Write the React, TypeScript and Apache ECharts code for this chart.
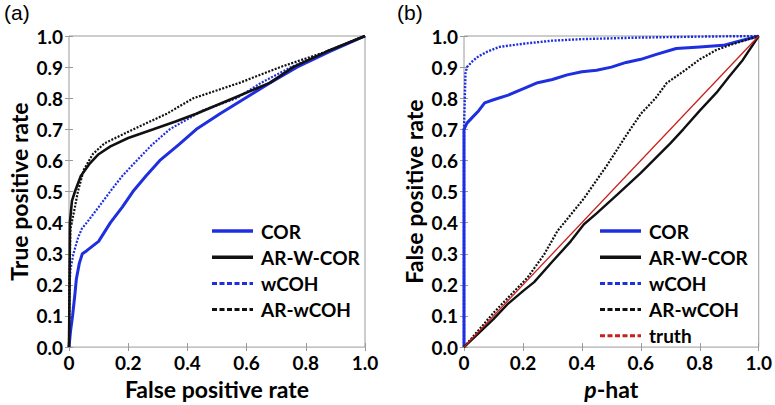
import React, { useEffect, useRef } from "react";
import * as echarts from "echarts";

// ---------- Data ----------
// Panel (a): ROC curves  [false positive rate, true positive rate]
const rocCOR: number[][] = [
  [0, 0], [0.005, 0.05], [0.012, 0.1], [0.02, 0.17], [0.025, 0.22], [0.035, 0.27], [0.045, 0.3],
  [0.06, 0.31], [0.1, 0.34], [0.14, 0.4], [0.18, 0.45], [0.216, 0.5], [0.26, 0.55], [0.307, 0.6],
  [0.37, 0.65], [0.43, 0.7], [0.51, 0.75], [0.595, 0.8], [0.68, 0.85], [0.77, 0.9], [0.88, 0.95], [1, 1],
];
const rocARWCOR: number[][] = [
  [0, 0], [0.002, 0.2], [0.003, 0.4], [0.01, 0.47], [0.02, 0.5], [0.04, 0.55], [0.07, 0.59],
  [0.1, 0.62], [0.14, 0.645], [0.2, 0.672], [0.285, 0.7], [0.36, 0.725], [0.43, 0.75], [0.555, 0.8],
  [0.68, 0.85], [0.757, 0.9], [0.87, 0.95], [1, 1],
];
const rocWCOH: number[][] = [
  [0, 0], [0.002, 0.2], [0.005, 0.25], [0.015, 0.3], [0.03, 0.35], [0.043, 0.38], [0.06, 0.4],
  [0.1, 0.45], [0.139, 0.5], [0.18, 0.55], [0.229, 0.6], [0.28, 0.65], [0.34, 0.7], [0.45, 0.76],
  [0.566, 0.8], [0.65, 0.85], [0.75, 0.9], [0.87, 0.95], [1, 1],
];
const rocARWCOH: number[][] = [
  [0, 0], [0.001, 0.2], [0.005, 0.38], [0.02, 0.45], [0.03, 0.5], [0.05, 0.57], [0.08, 0.62],
  [0.12, 0.655], [0.217, 0.7], [0.33, 0.75], [0.42, 0.8], [0.578, 0.85], [0.713, 0.9], [0.87, 0.95], [1, 1],
];

// Panel (b): calibration  [p-hat, false positive rate]
const calCOR: number[][] = [
  [0, 0], [0, 0.7], [0.01, 0.72], [0.03, 0.74], [0.05, 0.76], [0.07, 0.785], [0.1, 0.795], [0.15, 0.81],
  [0.2, 0.83], [0.25, 0.85], [0.3, 0.86], [0.35, 0.875], [0.4, 0.885], [0.45, 0.89], [0.5, 0.9],
  [0.55, 0.915], [0.6, 0.925], [0.65, 0.94], [0.72, 0.96], [0.8, 0.965], [0.88, 0.97], [0.92, 0.98], [1, 1],
];
const calARWCOR: number[][] = [
  [0, 0], [0.05, 0.045], [0.1, 0.09], [0.15, 0.14], [0.2, 0.18], [0.238, 0.209], [0.3, 0.275],
  [0.362, 0.34], [0.407, 0.395], [0.45, 0.43], [0.52, 0.49], [0.6, 0.56], [0.7, 0.655], [0.744, 0.7],
  [0.8, 0.76], [0.856, 0.817], [0.9, 0.87], [0.946, 0.923], [1, 1],
];
const calWCOH: number[][] = [
  [0, 0], [0, 0.7], [0.005, 0.88], [0.01, 0.9], [0.03, 0.92], [0.05, 0.935], [0.08, 0.95], [0.12, 0.965],
  [0.2, 0.975], [0.3, 0.985], [0.4, 0.99], [0.6, 0.995], [0.8, 0.998], [1, 1],
];
const calARWCOH: number[][] = [
  [0, 0], [0.1, 0.11], [0.216, 0.224], [0.272, 0.298], [0.317, 0.373], [0.407, 0.478], [0.485, 0.584],
  [0.55, 0.68], [0.6, 0.75], [0.65, 0.8], [0.688, 0.849], [0.75, 0.89], [0.8, 0.925], [0.856, 0.955],
  [0.9, 0.97], [0.95, 0.985], [1, 1],
];
const calTruth: number[][] = [[0, 0], [1, 1]];

const legendA = ["COR", "AR-W-COR", "wCOH", "AR-wCOH"];
const legendB = ["COR", "AR-W-COR", "wCOH", "AR-wCOH", "truth"];

const BLUE = "#1e2fe0";
const BLACK = "#111111";
const RED = "#c8201c";
const FONT = "Lato";

export default function App() {
  const ref = useRef<HTMLDivElement>(null);
  useEffect(() => {
    if (!ref.current) return;
    const chart = echarts.init(ref.current, null, { renderer: "svg" });

    const tickLabel = {
      fontFamily: FONT,
      fontWeight: "bold" as const,
      fontSize: 19,
      color: "#000",
    };
    const TITLE = 23;
    const grids = [
      { left: 69, right: 410, top: 36, bottom: 54, show: true, borderColor: "#9a9a9a", borderWidth: 1 },
      { left: 464, right: 14, top: 36, bottom: 54, show: true, borderColor: "#9a9a9a", borderWidth: 1 },
    ];
    const xBottom = (gi: number, name: any) => ({
      type: "value", gridIndex: gi, min: 0, max: 1, interval: 0.2, position: "bottom",
      axisLine: { show: false }, splitLine: { show: false },
      axisTick: { inside: true, length: 4, lineStyle: { color: "#9a9a9a" } },
      axisLabel: { ...tickLabel, margin: 6, formatter: (v: number) => (v === 0 ? "0" : v.toFixed(1)) },
      name, nameLocation: "middle", nameGap: 28,
      nameTextStyle: { fontFamily: FONT, fontWeight: "bold", fontSize: TITLE, color: "#000", rich: {
        i: { fontFamily: FONT, fontWeight: "bold", fontStyle: "italic", fontSize: TITLE, color: "#000" },
        n: { fontFamily: FONT, fontWeight: "bold", fontSize: TITLE, color: "#000" },
      } },
    });
    const xTop = (gi: number) => ({
      type: "value", gridIndex: gi, min: 0, max: 1, interval: 0.2, position: "top",
      axisLine: { show: false }, splitLine: { show: false }, axisLabel: { show: false },
      axisTick: { inside: true, length: 4, lineStyle: { color: "#9a9a9a" } },
    });
    const yLeft = (gi: number, name: string) => ({
      type: "value", gridIndex: gi, min: 0, max: 1, interval: 0.1, position: "left",
      axisLine: { show: false }, splitLine: { show: false },
      axisTick: { inside: true, length: 4, lineStyle: { color: "#9a9a9a" } },
      axisLabel: { ...tickLabel, margin: 6, formatter: (v: number) => v.toFixed(1) },
      name, nameLocation: "middle", nameGap: 39, nameRotate: 90,
      nameTextStyle: { fontFamily: FONT, fontWeight: "bold", fontSize: TITLE, color: "#000" },
    });
    const yRight = (gi: number) => ({
      type: "value", gridIndex: gi, min: 0, max: 1, interval: 0.1, position: "right",
      axisLine: { show: false }, splitLine: { show: false }, axisLabel: { show: false },
      axisTick: { inside: true, length: 4, lineStyle: { color: "#9a9a9a" } },
    });

    const line = (name: string, data: number[][], color: string, width: number, dotted: boolean, xi: number, yi: number, z = 2) => ({
      type: "line", name, data, xAxisIndex: xi, yAxisIndex: yi, showSymbol: false, symbol: "none",
      z,
      lineStyle: { color, width, type: dotted ? [2, 1.5] : "solid" },
      itemStyle: { color },
    });

    // Hand-drawn legends (line sample + label)
    const legendGraphics = (names: string[], x0: number, y0: number) => {
      const out: any[] = [];
      names.forEach((n, i) => {
        const color = n === "truth" ? RED : n.startsWith("AR") ? BLACK : BLUE;
        const dashed = n === "wCOH" || n === "AR-wCOH" || n === "truth";
        const y = y0 + i * 26.2;
        out.push({
          type: "line",
          shape: { x1: x0, y1: y, x2: x0 + 41, y2: y },
          style: { stroke: color, lineWidth: dashed ? 3 : 3.5, lineDash: dashed ? [5, 2.5] : null },
          z: 10,
        });
        out.push({
          type: "text",
          x: x0 + 49, y,
          style: { text: n, font: `bold 19px ${FONT}`, fill: "#000", textVerticalAlign: "middle", verticalAlign: "middle" },
          z: 10,
        });
      });
      return out;
    };

    chart.setOption({
      animation: false,
      backgroundColor: "#fff",
      grid: grids,
      xAxis: [
        xBottom(0, "False positive rate"), xTop(0),
        xBottom(1, "{i|p}{n|-hat}"), xTop(1),
      ],
      yAxis: [
        yLeft(0, "True positive rate"), yRight(0),
        yLeft(1, "False positive rate"), yRight(1),
      ],
      graphic: [
        { type: "text", left: 4, top: 2, style: { text: "(a)", font: "21px 'Liberation Sans'", fill: "#000" } },
        { type: "text", left: 397, top: 2, style: { text: "(b)", font: "21px 'Liberation Sans'", fill: "#000" } },
        ...legendGraphics(legendA, 212, 231),
        ...legendGraphics(legendB, 600, 231),
      ],
      series: [
        line("wCOH", rocWCOH, BLUE, 2.2, true, 0, 0),
        line("COR", rocCOR, BLUE, 3, false, 0, 0),
        line("AR-wCOH", rocARWCOH, BLACK, 2.2, true, 0, 0),
        line("AR-W-COR", rocARWCOR, BLACK, 2.6, false, 0, 0),
        line("wCOH", calWCOH, BLUE, 2.4, true, 2, 2),
        line("COR", calCOR, BLUE, 3, false, 2, 2),
        line("AR-wCOH", calARWCOH, BLACK, 2.2, true, 2, 2),
        line("AR-W-COR", calARWCOR, BLACK, 2.4, false, 2, 2),
        line("truth", calTruth, RED, 1.3, false, 2, 2, 3),
      ],
    });
    return () => chart.dispose();
  }, []);
  return <div ref={ref} style={{ width: 775, height: 405, position: "absolute", left: 0, top: 0 }} />;
}
